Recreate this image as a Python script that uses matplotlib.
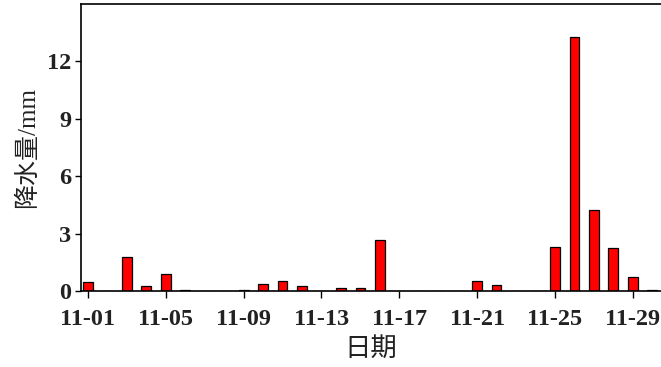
import matplotlib.pyplot as plt
import numpy as np

days = list(range(1, 31))
rain = [0.47, 0.0, 1.80, 0.28, 0.87, 0.05, 0.0, 0.0, 0.05, 0.38,
        0.50, 0.28, 0.0, 0.16, 0.16, 2.66, 0.0, 0.0, 0.0, 0.0,
        0.54, 0.31, 0.0, 0.0, 2.28, 13.3, 4.21, 2.26, 0.75, 0.05]
tick_days = [1, 5, 9, 13, 17, 21, 25, 29]
tick_labels = ["11-%02d" % d for d in tick_days]
y_ticks = [0, 3, 6, 9, 12]

fig = plt.figure(figsize=(6.61, 3.67), dpi=100)
ax = fig.add_axes([0.1225, 0.207, 0.8775, 0.782])

ax.bar(days, rain, width=0.5, color="#ff0000", edgecolor="black", linewidth=0.9)

ax.set_xlim(0.64, 30.45)
ax.set_ylim(0, 15)
ax.set_xticks(tick_days)
ax.set_xticklabels(tick_labels)
ax.set_yticks(y_ticks)

for lab in ax.get_xticklabels() + ax.get_yticklabels():
    lab.set_family("Liberation Serif")
    lab.set_fontweight("bold")
    lab.set_fontsize(17.5)
    lab.set_color("#222222")

ax.tick_params(axis="x", direction="out", length=5, width=1, pad=8)
ax.tick_params(axis="y", direction="out", length=4, width=1, pad=3)
ax.spines["right"].set_visible(False)
for s in ["left", "top", "bottom"]:
    ax.spines[s].set_linewidth(1.2)

cjk = ["Liberation Serif", "Noto Sans CJK SC"]
ax.set_ylabel("降水量/mm", fontsize=18, family=cjk, color="#222222", labelpad=6)
ax.set_xlabel("日期", fontsize=19, family=cjk, color="#222222", labelpad=5)

fig.savefig("out.png", dpi=100)
